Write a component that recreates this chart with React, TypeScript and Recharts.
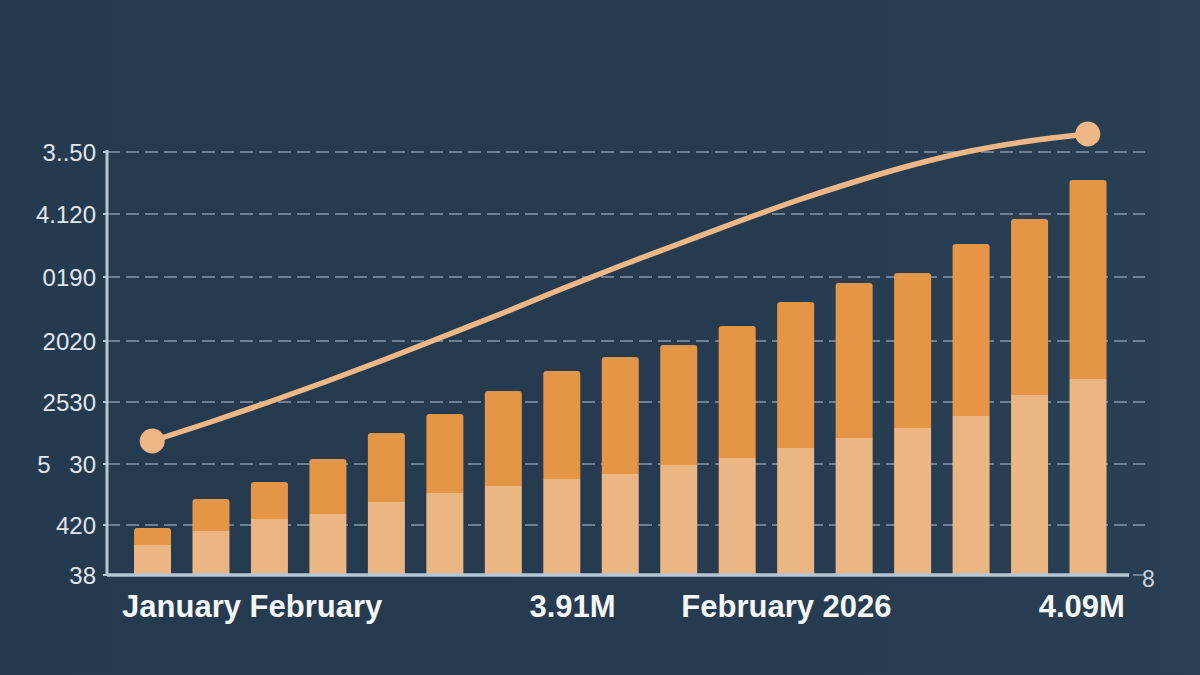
import React from 'react';
import {
  ComposedChart,
  Bar,
  Line,
  XAxis,
  YAxis,
  CartesianGrid,
} from 'recharts';

// months covered by the chart
const months = [
  'Oct 2024', 'Nov 2024', 'Dec 2024', 'Jan 2025', 'Feb 2025', 'Mar 2025',
  'Apr 2025', 'May 2025', 'Jun 2025', 'Jul 2025', 'Aug 2025', 'Sep 2025',
  'Oct 2025', 'Nov 2025', 'Dec 2025', 'Jan 2026', 'Feb 2026',
];

// lower (light) segment of each bar
const baseValues = [30, 44, 56, 61, 73, 82, 89, 96, 101, 110, 117, 127, 137, 147, 159, 180, 196];
// upper (orange) segment of each bar
const topValues = [17, 32, 37, 55, 69, 79, 95, 108, 117, 120, 132, 146, 155, 155, 172, 176, 199];
// trend line
const trendValues = [134, 153, 173, 194, 216, 239, 262, 286, 309, 331, 353, 374, 393, 410, 424, 434, 441];

// labels under the x axis (blank = no label)
const xTickLabels = [
  '', '', 'January February', '', '', '', '', '3.91M', '', '', '', 'February 2026',
  '', '', '', '', '4.09M',
];

const yTicks = [0, 50, 111, 173, 234, 298, 361, 423];
const yTickLabels = ['38', '420', '5\u2002\u00a030', '2530', '2020', '0190', '4.120', '3..50'];

const data = months.map((m, i) => ({
  month: m,
  base: baseValues[i],
  top: topValues[i],
  trend: trendValues[i],
}));

const LINE_COLOR = '#f0b786';
const AXIS_COLOR = '#b4c5d4';
const FONT = '"Liberation Sans", Arial, sans-serif';

// small horizontal nudges so the labels sit where the original puts them
const labelNudge: Record<number, number> = { 2: -17, 7: 11, 11: -9, 16: -6 };

const XTick = (props: any) => {
  const { x, y, payload } = props;
  const label = xTickLabels[payload.index];
  if (!label) return <g />;
  return (
    <text
      x={x + (labelNudge[payload.index] || 0)}
      y={y + 42}
      textAnchor="middle"
      fill="#f4f6f8"
      fontSize={31}
      fontWeight={700}
      fontFamily={FONT}
    >
      {label}
    </text>
  );
};

const RightTick = (props: any) => {
  const { x, y, payload } = props;
  return (
    <text x={x - 3} y={y + 12} fill="#c8d3dd" fontSize={23} fontFamily={FONT}>
      {payload.value === 0 ? '8' : ''}
    </text>
  );
};

const TrendDot = (props: any) => {
  const { cx, cy, index } = props;
  if (index !== 0 && index !== trendValues.length - 1) return <g key={`d-${index}`} />;
  return <circle key={`d-${index}`} cx={cx} cy={cy} r={12.5} fill={LINE_COLOR} />;
};

export default function App() {
  return (
    <div
      style={{
        position: 'absolute',
        left: 0,
        top: 0,
        width: 1200,
        height: 675,
        background: 'linear-gradient(90deg, #243a4f 0%, #263b50 60%, #293f53 100%)',
      }}
    >
      <ComposedChart
        width={1200}
        height={675}
        data={data}
        margin={{ top: 110, right: 0, bottom: 40, left: 0 }}
        barSize={37}
      >
        <CartesianGrid
          yAxisId="left"
          vertical={false}
          syncWithTicks
          stroke="#8598ab"
          strokeWidth={1.5}
          strokeDasharray="13 6"
        />
        <XAxis
          dataKey="month"
          interval={0}
          height={60}
          padding={{ left: 16, right: 28 }}
          tickLine={false}
          tickSize={0}
          tickMargin={0}
          tick={<XTick />}
          axisLine={{ stroke: AXIS_COLOR, strokeWidth: 3.5, strokeDasharray: '1022 200' }}
        />
        <YAxis
          yAxisId="left"
          width={107}
          domain={[0, 465]}
          ticks={yTicks}
          interval={0}
          tickFormatter={(v: number) => yTickLabels[yTicks.indexOf(v)]}
          tick={{ fill: '#e1e6ec', fontSize: 24, fontFamily: FONT }}
          tickLine={{ stroke: AXIS_COLOR, strokeWidth: 2 }}
          tickSize={4}
          tickMargin={7}
          axisLine={{ stroke: AXIS_COLOR, strokeWidth: 3, strokeDasharray: '0 40 425 0' }}
        />
        <YAxis
          yAxisId="right"
          orientation="right"
          width={55}
          domain={[0, 465]}
          ticks={[0]}
          interval={0}
          tick={<RightTick />}
          tickLine={false}
          tickSize={0}
          tickMargin={0}
          axisLine={false}
        />
        <Bar
          yAxisId="left"
          dataKey="base"
          stackId="s"
          fill="#ebb584"
          isAnimationActive={false}
        />
        <Bar
          yAxisId="left"
          dataKey="top"
          stackId="s"
          fill="#e59546"
          radius={[3, 3, 0, 0]}
          isAnimationActive={false}
        />
        <Line
          yAxisId="right"
          type="monotone"
          dataKey="trend"
          stroke={LINE_COLOR}
          strokeWidth={5.5}
          strokeLinecap="round"
          dot={TrendDot}
          activeDot={false}
          isAnimationActive={false}
        />
      </ComposedChart>
    </div>
  );
}
